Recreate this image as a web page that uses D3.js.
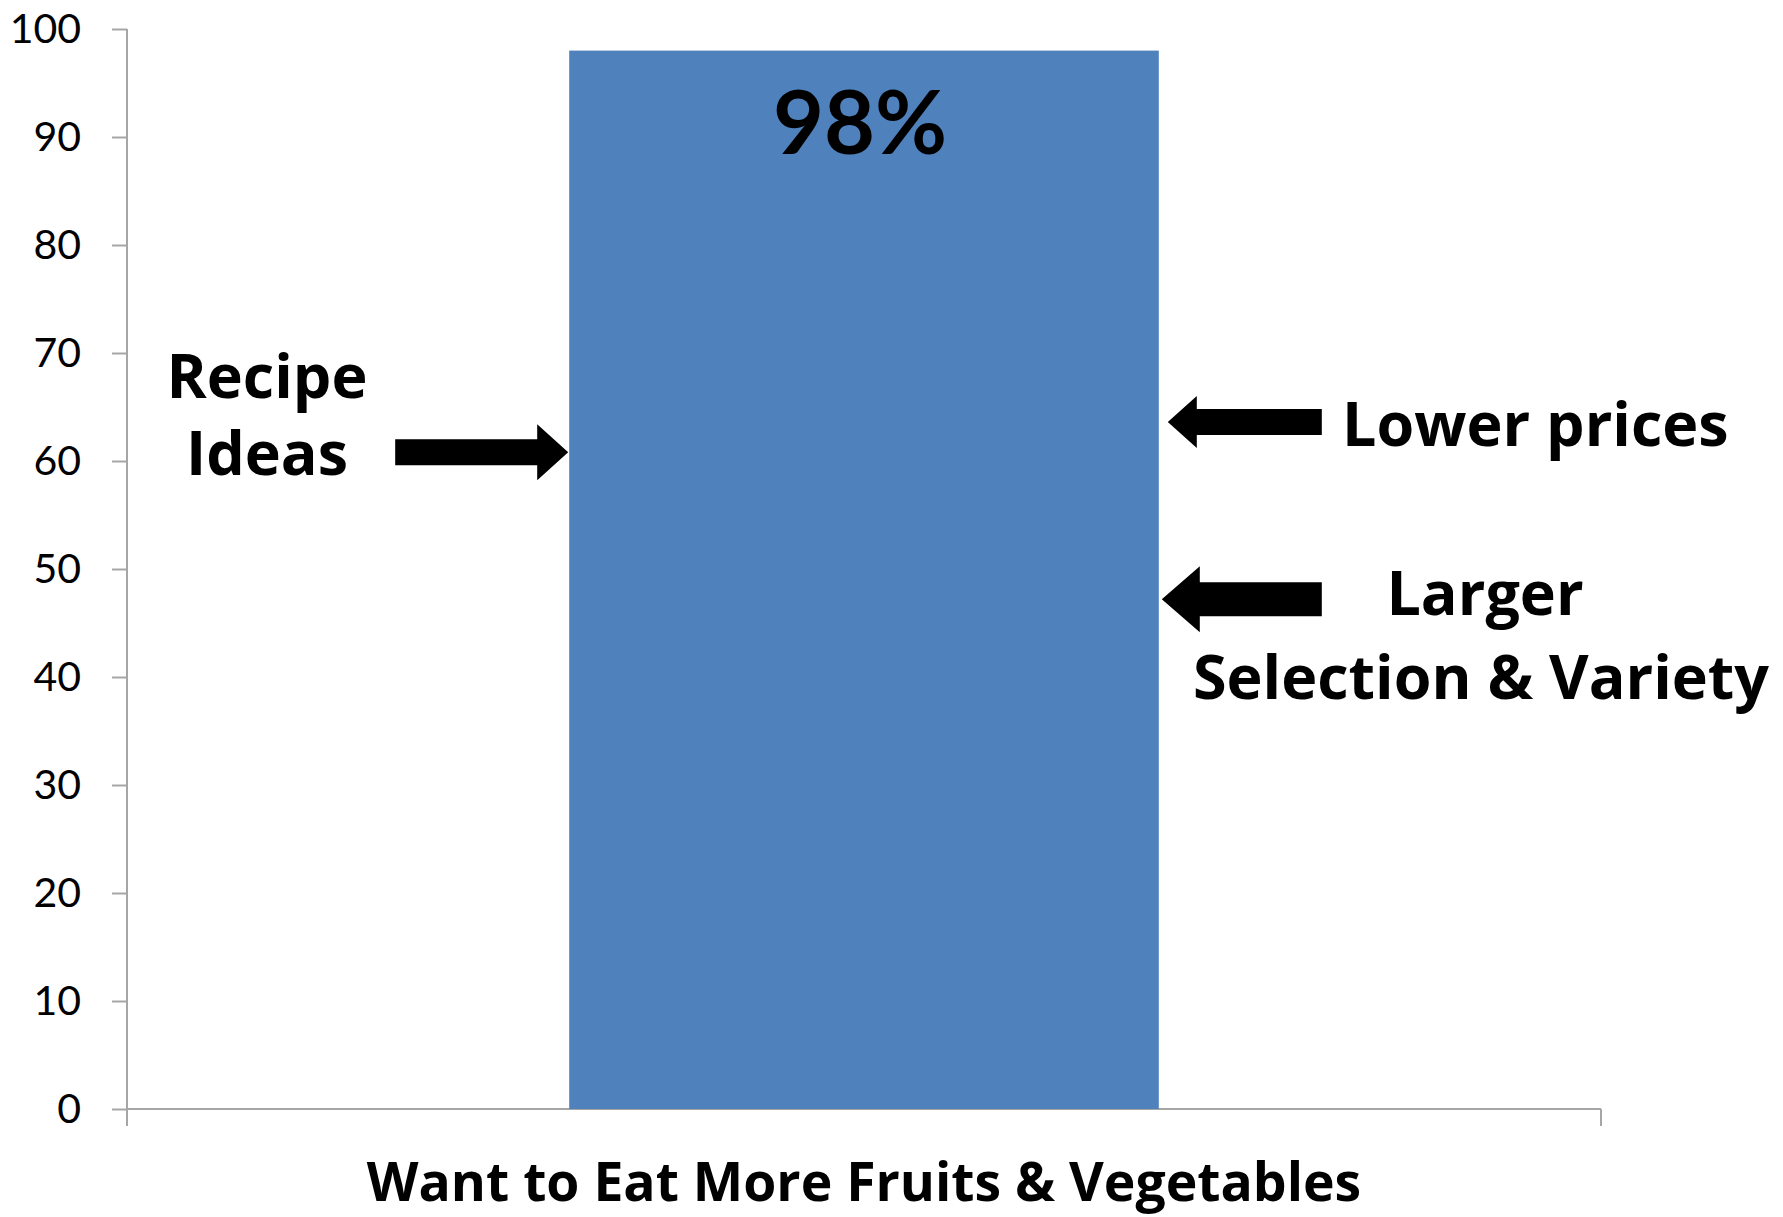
<!DOCTYPE html>
<html>
<head>
<meta charset="utf-8">
<script src="https://cdn.jsdelivr.net/npm/d3@7"></script>
<style>
  body { margin: 0; background: #fff; }
  svg { display: block; }
  .axis path, .axis line { stroke: #a6a6a6; stroke-width: 2; }
  .axis text { font-family: Lato, sans-serif; font-size: 41px; fill: #000; }
  .note { font-family: "Open Sans", sans-serif; font-weight: bold; font-size: 61px; fill: #000; }
</style>
</head>
<body>
<div id="chart"></div>
<script>
// data
var categories = ["Want to Eat More Fruits & Vegetables"];
var values = [98];
var yTicks = [0, 10, 20, 30, 40, 50, 60, 70, 80, 90, 100];
var valueLabels = ["98%"];

// annotations: text lines and the value the arrow points at
var noteRecipe = ["Recipe", "Ideas"];
var noteLower = ["Lower prices"];
var noteLarger = ["Larger", "Selection & Variety"];
var arrowLevels = [60.8, 63.6, 47.2];

var margin = {top: 29, right: 182, bottom: 108, left: 127},
    width = 1783 - margin.left - margin.right,
    height = 1217 - margin.top - margin.bottom;

var svg = d3.select("#chart").append("svg")
    .attr("width", 1783)
    .attr("height", 1217)
    .append("g")
    .attr("transform", "translate(" + margin.left + "," + margin.top + ")");

var x = d3.scaleBand()
    .domain(categories)
    .range([0, width])
    .paddingInner(0)
    .paddingOuter(0.75);

var y = d3.scaleLinear().domain([0, 100]).range([height, 0]);

// y axis
var yAxis = svg.append("g")
    .attr("class", "axis")
    .call(d3.axisLeft(y).tickValues(yTicks).tickSizeInner(15).tickSizeOuter(0).tickPadding(31));
yAxis.select(".domain").attr("d", "M0,0V" + (height + 17));

// x axis line with end ticks
var xg = svg.append("g").attr("class", "axis");
xg.append("line").attr("x1", 0).attr("x2", width).attr("y1", height).attr("y2", height);
xg.append("line").attr("x1", width).attr("x2", width).attr("y1", height).attr("y2", height + 17);

// bars
svg.selectAll(".bar")
    .data(values)
    .enter().append("rect")
    .attr("class", "bar")
    .attr("x", function(d, i) { return x(categories[i]); })
    .attr("width", x.bandwidth())
    .attr("y", function(d) { return y(d); })
    .attr("height", function(d) { return height - y(d); })
    .style("fill", "#4f81bd");

// value label
svg.selectAll(".vlabel")
    .data(values)
    .enter().append("text")
    .attr("class", "note")
    .attr("x", function(d, i) { return x(categories[i]) + x.bandwidth() / 2 - 4; })
    .attr("y", function(d) { return y(d) + 103; })
    .attr("text-anchor", "middle")
    .style("font-family", "Lato, sans-serif")
    .style("font-size", "88px")
    .text(function(d, i) { return valueLabels[i]; });

// category label
svg.append("text")
    .attr("class", "note")
    .attr("x", x(categories[0]) + x.bandwidth() / 2)
    .attr("y", height + 92)
    .attr("text-anchor", "middle")
    .style("font-size", "53.5px")
    .text(categories[0]);

var barLeft = x(categories[0]),
    barRight = x(categories[0]) + x.bandwidth();

// arrow polygon: tip x, head base x, tail x, centre y, shaft half, head half
function arrow(tip, base, tail, cy, s, h) {
  return "M" + tip + "," + cy +
    "L" + base + "," + (cy - h) +
    "L" + base + "," + (cy - s) +
    "L" + tail + "," + (cy - s) +
    "L" + tail + "," + (cy + s) +
    "L" + base + "," + (cy + s) +
    "L" + base + "," + (cy + h) + "Z";
}

svg.append("path")
    .attr("d", arrow(barLeft - 1, barLeft - 32, barLeft - 174, y(arrowLevels[0]), 13, 28))
    .style("fill", "#000");
svg.append("path")
    .attr("d", arrow(barRight + 9, barRight + 38, barRight + 163, y(arrowLevels[1]), 13, 26))
    .style("fill", "#000");
svg.append("path")
    .attr("d", arrow(barRight + 3, barRight + 41, barRight + 163, y(arrowLevels[2]), 17, 33))
    .style("fill", "#000");

// notes
svg.append("g").selectAll("text")
    .data(noteRecipe)
    .enter().append("text")
    .attr("class", "note")
    .attr("text-anchor", "middle")
    .attr("x", 267 - margin.left)
    .attr("y", function(d, i) { return 398 - margin.top + i * 77; })
    .text(function(d) { return d; });

svg.append("text")
    .attr("class", "note")
    .attr("x", 1342 - margin.left)
    .attr("y", 446 - margin.top)
    .text(noteLower[0]);

svg.append("g").selectAll("text")
    .data(noteLarger)
    .enter().append("text")
    .attr("class", "note")
    .attr("text-anchor", "middle")
    .attr("x", function(d, i) { return (i ? 1481 : 1485) - margin.left; })
    .attr("y", function(d, i) { return 615 - margin.top + i * 84; })
    .text(function(d) { return d; });
</script>
</body>
</html>
